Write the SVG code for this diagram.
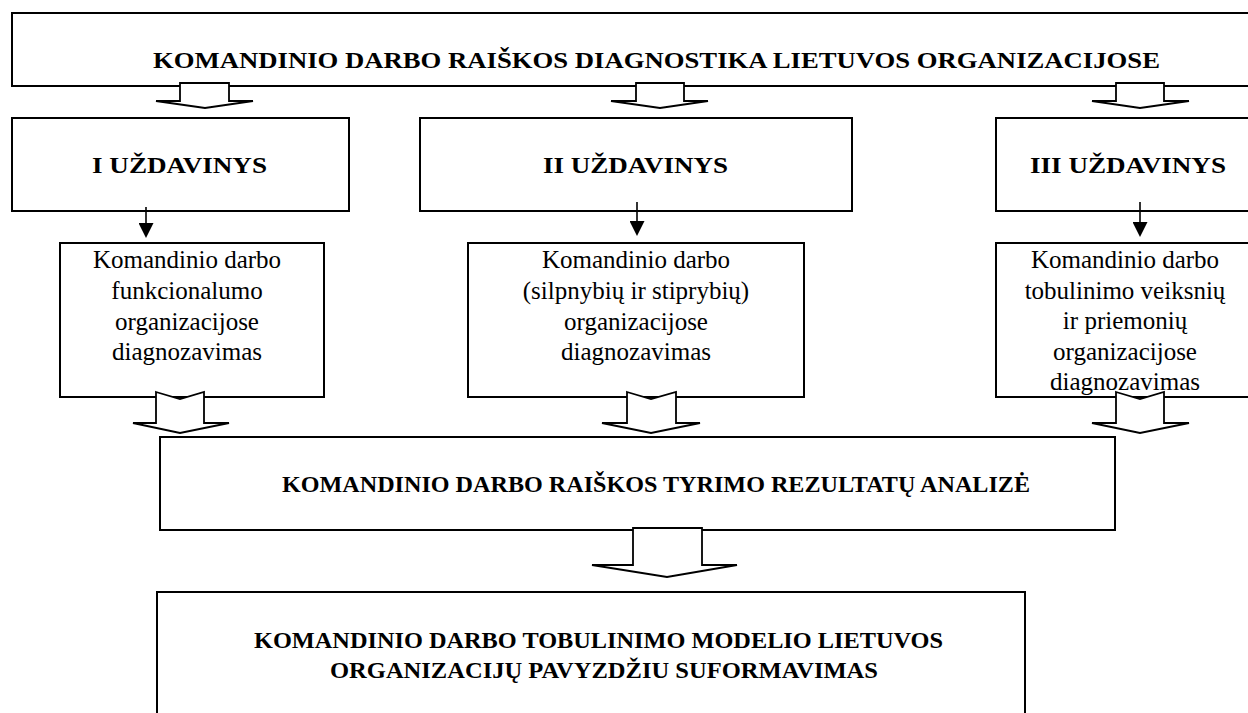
<svg xmlns="http://www.w3.org/2000/svg" width="1248" height="713" viewBox="0 0 1248 713">
  <style>
    .box { fill: #fff; stroke: #000; stroke-width: 2; }
    .block { fill: #fff; stroke: #000; stroke-width: 1.8; stroke-linejoin: miter; }
    .head { font-family: 'Liberation Serif', 'DejaVu Serif', 'Times New Roman', serif; font-weight: bold; font-size: 22.5px; fill: #000; }
    .body { font-family: 'Liberation Serif', 'DejaVu Serif', 'Times New Roman', serif; font-size: 25px; fill: #000; text-anchor: middle; }
    .thin { stroke: #000; stroke-width: 1.6; fill: none; }
  </style>
  <defs>
    <!-- solid arrowhead; base sits on the line end, tip points along the line -->
    <marker id="tri" markerWidth="15" markerHeight="15" refX="0" refY="7.5" orient="auto" markerUnits="userSpaceOnUse" viewBox="0 0 15 15">
      <path d="M0,0 L15,7.5 L0,15 Z" fill="#000"/>
    </marker>
  </defs>

  <rect width="1248" height="713" fill="#fff"/>

  <!-- main title -->
  <g id="title">
    <rect class="box" x="12" y="13" width="1250" height="73"/>
    <text class="head" font-family="Liberation Serif, serif" x="153" y="68" textLength="1007" lengthAdjust="spacingAndGlyphs">KOMANDINIO DARBO RAIŠKOS DIAGNOSTIKA LIETUVOS ORGANIZACIJOSE</text>
  </g>

  <!-- tasks -->
  <g id="task1">
    <rect class="box" x="12" y="118" width="337" height="93"/>
    <text class="head" x="92" y="173" textLength="175" lengthAdjust="spacingAndGlyphs">I UŽDAVINYS</text>
  </g>
  <g id="task2">
    <rect class="box" x="420" y="118" width="432" height="93"/>
    <text class="head" x="543" y="173" textLength="185" lengthAdjust="spacingAndGlyphs">II UŽDAVINYS</text>
  </g>
  <g id="task3">
    <rect class="box" x="996" y="118" width="266" height="93"/>
    <text class="head" x="1030" y="173" textLength="196" lengthAdjust="spacingAndGlyphs">III UŽDAVINYS</text>
  </g>

  <!-- task contents -->
  <g id="content1">
    <rect class="box" x="60" y="243" width="264" height="154"/>
    <text class="body" x="187" y="268">Komandinio darbo</text>
    <text class="body" x="187" y="299">funkcionalumo</text>
    <text class="body" x="187" y="330">organizacijose</text>
    <text class="body" x="187" y="360">diagnozavimas</text>
  </g>
  <g id="content2">
    <rect class="box" x="468" y="243" width="336" height="154"/>
    <text class="body" x="636" y="268">Komandinio darbo</text>
    <text class="body" x="636" y="299">(silpnybių ir stiprybių)</text>
    <text class="body" x="636" y="330">organizacijose</text>
    <text class="body" x="636" y="360">diagnozavimas</text>
  </g>
  <g id="content3">
    <rect class="box" x="996" y="243" width="266" height="154"/>
    <text class="body" x="1125" y="268">Komandinio darbo</text>
    <text class="body" x="1125" y="299">tobulinimo veiksnių</text>
    <text class="body" x="1125" y="329">ir priemonių</text>
    <text class="body" x="1125" y="360">organizacijose</text>
    <text class="body" x="1125" y="390">diagnozavimas</text>
  </g>

  <!-- analysis -->
  <g id="analysis">
    <rect class="box" x="160" y="437" width="955" height="93"/>
    <text class="head" x="282" y="492" textLength="748" lengthAdjust="spacingAndGlyphs">KOMANDINIO DARBO RAIŠKOS TYRIMO REZULTATŲ ANALIZĖ</text>
  </g>

  <!-- model -->
  <g id="model">
    <rect class="box" x="157" y="592" width="868" height="140"/>
    <text class="head" x="254" y="648" textLength="689" lengthAdjust="spacingAndGlyphs">KOMANDINIO DARBO TOBULINIMO MODELIO LIETUVOS</text>
    <text class="head" x="330" y="678" textLength="548" lengthAdjust="spacingAndGlyphs">ORGANIZACIJŲ PAVYZDŽIU SUFORMAVIMAS</text>
  </g>

  <!-- connectors -->
  <g id="connectors">
    <!-- block arrows from the title -->
    <polygon class="block" points="180,83 229,83 229,101 253,101 205,108 156,101 180,101"/>
    <polygon class="block" points="636,83 684,83 684,101 708,101 660,108 611,101 636,101"/>
    <polygon class="block" points="1116,83 1164,83 1164,101 1189,101 1140,108 1092,101 1116,101"/>

    <!-- thin arrows from tasks to contents -->
    <line class="thin" x1="146" y1="207" x2="146" y2="223" marker-end="url(#tri)"/>
    <line class="thin" x1="637" y1="202" x2="637" y2="221" marker-end="url(#tri)"/>
    <line class="thin" x1="1140" y1="202" x2="1140" y2="222" marker-end="url(#tri)"/>

    <!-- block arrows from contents to analysis -->
    <polygon class="block" points="156,392 180,399 204,392 204,423 229,423 180,433 133,423 156,423"/>
    <polygon class="block" points="627,392 651,399 676,392 676,423 700,423 651,433 602,423 627,423"/>
    <polygon class="block" points="1116,392 1140,399 1164,392 1164,423 1189,423 1140,433 1092,423 1116,423"/>

    <!-- block arrow from analysis to model -->
    <polygon class="block" points="633,528 702,528 702,565 737,565 667,577 592,565 633,565"/>
  </g>
</svg>
